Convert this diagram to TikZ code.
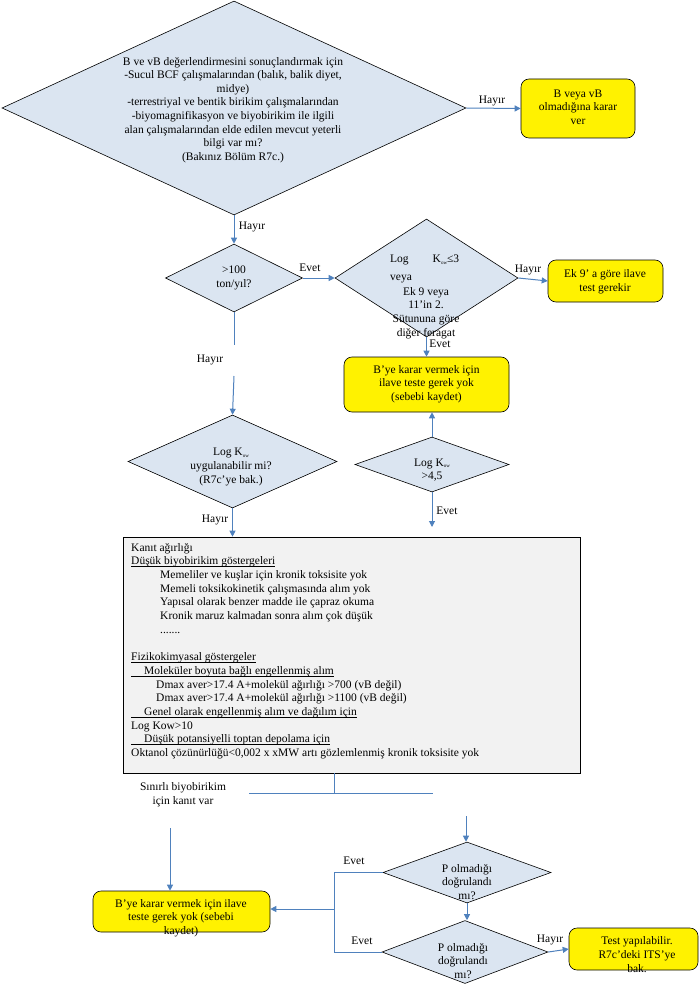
\documentclass[tikz,border=0pt]{standalone}
\usepackage{fontspec}
\setmainfont{Liberation Serif}
\usetikzlibrary{shapes.geometric,arrows.meta}

\definecolor{diafill}{RGB}{219,229,241}
\definecolor{linkblue}{RGB}{79,129,189}
\definecolor{notefill}{RGB}{242,242,242}
\newcommand{\Kow}{K\raisebox{-1.5pt}{\fontsize{5}{5}\selectfont ow}}
\newcommand{\undl}[1]{\setbox0\hbox{#1}\rlap{\rule[-1.8pt]{\wd0}{0.55pt}}\box0}

\tikzset{
	decision/.style={diamond, draw, fill=diafill, inner sep=0pt, line width=0.6pt},
	result/.style={rectangle, rounded corners=8pt, draw, fill=yellow, inner sep=0pt, line width=0.6pt},
	txt/.style={align=center, inner sep=0pt, font=\fontsize{11.5}{13.6}\selectfont},
	link/.style={draw=linkblue, line width=1pt},
}

\begin{document}
\begin{tikzpicture}[x=1pt, y=-1pt, >={Triangle[length=6pt,width=6pt]}]
		\useasboundingbox (0,0) rectangle (700,984);
		% decisions
		\node[decision, minimum width=464pt, minimum height=214pt] (q1) at (234,108) {};
		\node[decision, minimum width=137pt, minimum height=68pt] (q2) at (234,278) {};
		\node[decision, minimum width=183pt, minimum height=118pt] (q3) at (426.5,278) {};
		\node[decision, minimum width=209pt, minimum height=93pt] (q4) at (232.5,461.5) {};
		\node[decision, minimum width=154pt, minimum height=55pt] (q5) at (432,464.5) {};
		\node[decision, minimum width=168pt, minimum height=61pt] (q6) at (467,872.5) {};
		\node[decision, minimum width=166pt, minimum height=63pt] (q7) at (465,952) {};
		% results
		\node[result, minimum width=114pt, minimum height=59pt] (r1) at (578,108.5) {};
		\node[result, minimum width=115pt, minimum height=42pt] (r2) at (605.5,281) {};
		\node[result, minimum width=165pt, minimum height=55pt] (r3) at (426.5,384.5) {};
		\node[result, minimum width=177pt, minimum height=41pt] (r4) at (181.5,911.5) {};
		\node[result, minimum width=129pt, minimum height=42pt] (r5) at (633.5,949) {};
		\node[draw, fill=notefill, line width=0.6pt, minimum width=457pt, minimum height=236pt, inner sep=0pt] (note) at (351.5,655) {};

		% texts
		\node[txt] (t1) at (233,110) {B ve vB değerlendirmesini sonuçlandırmak için\\-Sucul BCF çalışmalarından (balık, balik diyet,\\midye)\\-terrestriyal ve bentik birikim çalışmalarından\\-biyomagnifikasyon ve biyobirikim ile ilgili\\alan çalışmalarından elde edilen mevcut yeterli\\bilgi var mı?\\(Bakınız Bölüm R7c.)};
		\node[txt] (t2) at (234,278) {>100\\ton/yıl?};
		\node[txt, anchor=west] (t3a) at (390,260) {Log\hspace{24pt}\Kow≤3};
		\node[txt, anchor=west] (t3b) at (390,279) {veya};
		\node[txt] (t3c) at (426,313) {Ek 9 veya\\11’in 2.\\Sütununa göre\\diğer feragat};
		\node[txt] (t4) at (231,467) {Log \Kow\\uygulanabilir mi?\\(R7c’ye bak.)};
		\node[txt] (t5) at (432,470) {Log \Kow\\>4,5};
		\node[txt] (t6) at (467,882) {P olmadığı\\doğrulandı\\mı?};
		\node[txt] (t7) at (463,961) {P olmadığı\\doğrulandı\\mı?};
		\node[txt] (s1) at (578,107) {B veya vB\\olmadığına karar\\ver};
		\node[txt] (s2) at (605,282) {Ek 9’ a göre ilave\\test gerekir};
		\node[txt] (s3) at (426.5,384) {B’ye karar vermek için\\ilave teste gerek yok\\(sebebi kaydet)};
		\node[txt] (s4) at (181,918) {B’ye karar vermek için ilave\\teste gerek yok (sebebi\\kaydet)};
		\node[txt] (s5) at (637,954.5) {Test yapılabilir.\\R7c’deki ITS’ye\\bak.};
		\node[txt, align=left, anchor=north west, font=\fontsize{11.5}{13.7}\selectfont] (evid) at (131,543) {Kanıt ağırlığı\\
			\undl{Düşük biyobirikim göstergeleri}\\
			\hspace*{29pt}Memeliler ve kuşlar için kronik toksisite yok\\
			\hspace*{29pt}Memeli toksikokinetik çalışmasında alım yok\\
			\hspace*{29pt}Yapısal olarak benzer madde ile çapraz okuma\\
			\hspace*{29pt}Kronik maruz kalmadan sonra alım çok düşük\\
			\hspace*{29pt}.......\\
			\mbox{}\\
			\undl{Fizikokimyasal göstergeler}\\
			\undl{\hspace*{13pt}Moleküler boyuta bağlı engellenmiş alım}\\
			\hspace*{25pt}Dmax aver>17.4 A+molekül ağırlığı >700 (vB değil)\\
			\hspace*{25pt}Dmax aver>17.4 A+molekül ağırlığı >1100 (vB değil)\\
			\undl{\hspace*{13pt}Genel olarak engellenmiş alım ve dağılım için}\\
			Log Kow>10\\
			\undl{\hspace*{13pt}Düşük potansiyelli toptan depolama için}\\
			Oktanol çözünürlüğü<0,002 x xMW artı gözlemlenmiş kronik toksisite yok};
		\node[txt] (limit) at (183,795) {Sınırlı biyobirikim\\için kanıt var};

		% labels
		\node[txt] (h1) at (492,101) {Hayır};
		\node[txt] (h2) at (252,227) {Hayır};
		\node[txt] (e2) at (310,268) {Evet};
		\node[txt] (h3) at (528,270) {Hayır};
		\node[txt] (e3) at (440,344) {Evet};
		\node[txt] (h4) at (210,360) {Hayır};
		\node[txt] (e5) at (447,511) {Evet};
		\node[txt] (h5) at (215,520) {Hayır};
		\node[txt] (e6) at (354,861) {Evet};
		\node[txt] (e7) at (362,941) {Evet};
		\node[txt] (h7) at (550,940) {Hayır};

		% free ends
		\coordinate (g1) at (234,345);
		\coordinate (g2) at (234,376);
		\coordinate (f5) at (432,527);
		\coordinate (stem) at (334,793);
		\coordinate (bar1) at (249,793);
		\coordinate (bar2) at (433,793);
		\coordinate (v1) at (170,828);
		\coordinate (v2) at (466,816);
		\coordinate (join) at (334,909);

		% connectors
		\draw[link,->] (q1.east) -- (r1.west);
		\draw[link,->] (q1.south) -- (q2.north);
		\draw[link,->] (q2.east) -- (q3.west);
		\draw[link,->] (q3.east) -- (r2.west);
		\draw[link,->] (q3.south) -- (r3.north);
		\draw[link] (q2.south) -- (g1);
		\draw[link,->] (g2) -- (q4.north);
		\draw[link,->] (q5.north) -- (q5.north |- r3.south);
		\draw[link,->] (q5.south) -- (f5);
		\draw[link,->] (q4.south) -- (q4.south |- note.north);
		\draw[link] (note.south -| stem) -- (stem);
		\draw[link] (bar1) -- (bar2);
		\draw[link,->] (v1) -- (v1 |- r4.north);
		\draw[link,->] (v2) -- (v2 |- q6.north);
		\draw[link] (q6.west) -- (q6.west -| join) -- (q7.west -| join) -- (q7.west);
		\draw[link,->] (join) -- (join -| r4.east);
		\draw[link,->] (q6.south) -- (q6.south |- q7.north);
		\draw[link,->] (q7.east) -- (r5.west);
	\end{tikzpicture}
\end{document}
